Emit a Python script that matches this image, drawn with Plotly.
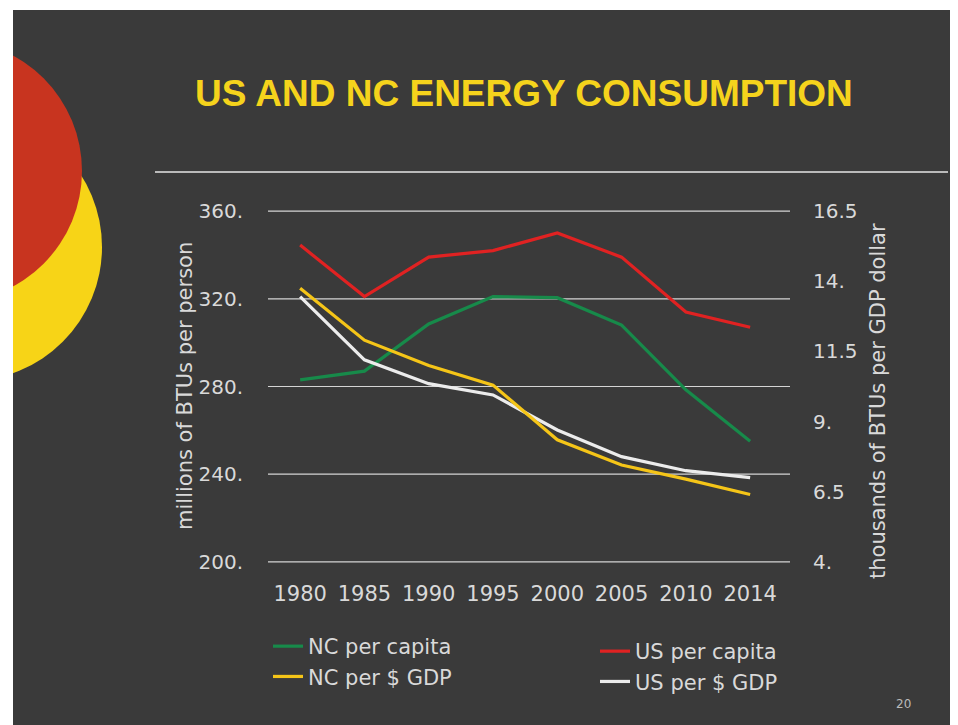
import plotly.graph_objects as go

# data
years = ["1980", "1985", "1990", "1995", "2000", "2005", "2010", "2014"]
nc_per_capita = [283, 287, 308.5, 321, 320.5, 308, 278.5, 255]
us_per_capita = [344.5, 321, 339, 342, 350, 339, 314, 307]
nc_per_gdp = [13.75, 11.9, 11.0, 10.3, 8.35, 7.45, 6.95, 6.4]
us_per_gdp = [13.45, 11.2, 10.35, 9.95, 8.7, 7.75, 7.25, 7.0]

left_ticks = [200, 240, 280, 320, 360]
left_labels = ["200.", "240.", "280.", "320.", "360."]
right_ticks = [4, 6.5, 9, 11.5, 14, 16.5]
right_labels = ["4.", "6.5", "9.", "11.5", "14.", "16.5"]

# the page puts the figure 8px in from the top-left corner
OFF = 8
W, H = 958 - OFF, 725 - OFF
L, R, T, B = 260, 168, 202, 162
PW, PH = W - L - R, H - T - B
FONT = "DejaVu Sans"
GREY = "#d9d9d9"
SZ = 21

# a little slack so the end gridlines are not clipped by the plot area
pad = 0.5
y_range = [200 - pad, 360 + pad]
k = (16.5 - 4) / (360 - 200)
y2_range = [4 - pad * k, 16.5 + pad * k]


def px(x):
    # page pixel -> paper x
    return (x - OFF - L) / PW


def py(y):
    # page pixel -> paper y
    return (H - B - (y - OFF)) / PH


fig = go.Figure()
fig.add_trace(go.Scatter(x=years, y=nc_per_capita, name="NC per capita", mode="lines",
                         line=dict(color="#178a4a", width=3.2), legend="legend"))
fig.add_trace(go.Scatter(x=years, y=us_per_capita, name="US per capita", mode="lines",
                         line=dict(color="#e02222", width=3.2), legend="legend2"))
fig.add_trace(go.Scatter(x=years, y=us_per_gdp, name="US per $ GDP", mode="lines", yaxis="y2",
                         line=dict(color="#ececec", width=3.2), legend="legend2"))
fig.add_trace(go.Scatter(x=years, y=nc_per_gdp, name="NC per $ GDP", mode="lines", yaxis="y2",
                         line=dict(color="#f5c518", width=3.2), legend="legend"))

shapes = [
    # slide background inside the scan margins
    dict(type="rect", xref="paper", yref="paper", x0=px(13), x1=px(970), y0=py(10), y1=py(740),
         fillcolor="#3a3a3a", line_width=0, layer="below"),
    dict(type="circle", xref="paper", yref="paper", x0=px(-166), x1=px(102), y0=py(113), y1=py(381),
         fillcolor="#f7d417", line_width=0, layer="below"),
    dict(type="circle", xref="paper", yref="paper", x0=px(-180), x1=px(82), y0=py(40), y1=py(302),
         fillcolor="#c8341f", line_width=0, layer="below"),
    dict(type="rect", xref="paper", yref="paper", x0=px(-300), x1=px(13), y0=py(0), y1=py(740),
         fillcolor="white", line_width=0, layer="below"),
    dict(type="line", xref="paper", yref="paper", x0=px(155), x1=px(948), y0=py(172), y1=py(172),
         line=dict(color="#e6e6e6", width=1.5)),
]
# horizontal gridlines, including the ones at the range ends
for v in left_ticks:
    shapes.append(dict(type="line", xref="paper", yref="y", x0=0, x1=1, y0=v, y1=v,
                       line=dict(color="#d4d4d4", width=1.2), layer="below"))

annotations = [
    dict(text="<b>US AND NC ENERGY CONSUMPTION</b>", xref="paper", yref="paper",
         x=px(524), y=py(94), showarrow=False, xanchor="center", yanchor="middle",
         font=dict(family="Liberation Sans", size=37, color="#f5d31c")),
    dict(text="millions of BTUs per person", xref="paper", yref="paper", x=px(185), y=py(386),
         textangle=-90, showarrow=False, xanchor="center", yanchor="middle",
         font=dict(family=FONT, size=SZ, color=GREY)),
    dict(text="thousands of BTUs per GDP dollar", xref="paper", yref="paper", x=px(878), y=py(401),
         textangle=-90, showarrow=False, xanchor="center", yanchor="middle",
         font=dict(family=FONT, size=SZ, color=GREY)),
    dict(text="20", xref="paper", yref="paper", x=px(903), y=py(704), showarrow=False,
         xanchor="center", yanchor="middle", font=dict(family=FONT, size=12, color="#bbbbbb")),
]

fig.update_layout(
    width=W, height=H,
    margin=dict(l=L, r=R, t=T, b=B, pad=0),
    paper_bgcolor="white", plot_bgcolor="rgba(0,0,0,0)",
    shapes=shapes, annotations=annotations,
    font=dict(family=FONT, size=SZ, color=GREY),
    xaxis=dict(type="category", range=[-0.5, 7.62], showgrid=False, zeroline=False,
               showline=False, ticks="", ticklabelstandoff=16,
               tickfont=dict(family=FONT, size=SZ, color=GREY)),
    yaxis=dict(range=y_range, tickvals=left_ticks, ticktext=left_labels,
               showgrid=False, zeroline=False,
               showline=False, ticks="", ticklabelstandoff=24,
               tickfont=dict(family=FONT, size=20, color=GREY)),
    yaxis2=dict(range=y2_range, tickvals=right_ticks, ticktext=right_labels, overlaying="y",
                side="right", showgrid=False, zeroline=False, showline=False, ticks="",
                ticklabelstandoff=22, tickfont=dict(family=FONT, size=20, color=GREY)),
    legend=dict(x=px(268), y=py(626), xanchor="left", yanchor="top", bgcolor="rgba(0,0,0,0)",
                font=dict(family=FONT, size=SZ, color=GREY), tracegroupgap=0, itemwidth=30,
                traceorder="normal"),
    legend2=dict(x=px(595), y=py(631), xanchor="left", yanchor="top", bgcolor="rgba(0,0,0,0)",
                 font=dict(family=FONT, size=SZ, color=GREY), tracegroupgap=0, itemwidth=30,
                 traceorder="normal"),
    showlegend=True,
)

fig.write_html("out.html")
